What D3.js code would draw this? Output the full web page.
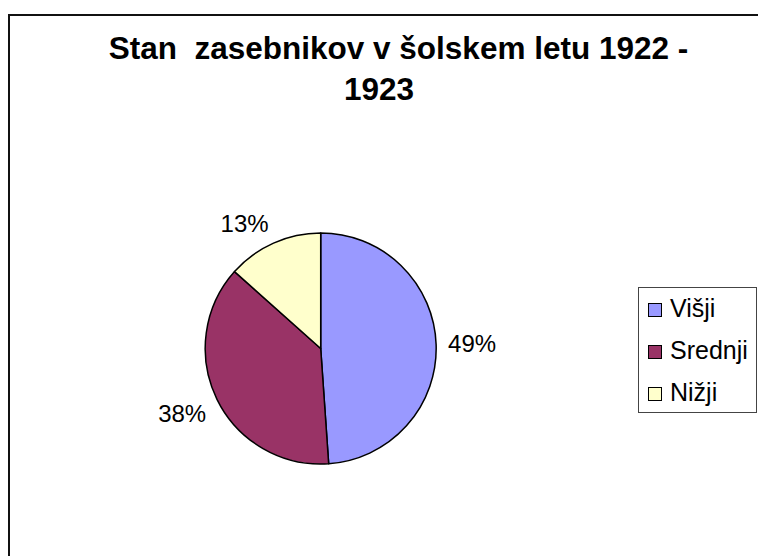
<!DOCTYPE html>
<html>
<head>
<meta charset="utf-8">
<script src="https://cdn.jsdelivr.net/npm/d3@7"></script>
<style>
  body { margin: 0; background: #fff; }
  svg { display: block; font-family: "Liberation Sans", Arial, sans-serif; }
</style>
</head>
<body>
<div id="chart"></div>
<script>
// Pie: Stan zasebnikov v šolskem letu 1922 - 1923
const CATEGORIES = ['Višji', 'Srednji', 'Nižji'];
const VALUES = [48.9, 37.7, 13.4];
const COLOURS = ['#9999ff', '#993366', '#ffffcc'];
const TITLE_LINES = ['Stan  zasebnikov v šolskem letu 1922 -', '1923'];

const width = 758, height = 556;
const cx = 320.7, cy = 348.5, R = 115.5;

const svg = d3.select('#chart').append('svg')
  .attr('width', width)
  .attr('height', height);

svg.append('rect').attr('width', width).attr('height', height).attr('fill', '#fff');

// chart area border (runs off the right/bottom edge)
svg.append('rect')
  .attr('x', 9).attr('y', 15)
  .attr('width', 800).attr('height', 600)
  .attr('fill', 'none')
  .attr('stroke', '#111')
  .attr('stroke-width', 2);

// title
svg.append('text')
  .attr('x', 398.5).attr('y', 59)
  .attr('text-anchor', 'middle')
  .style('font-size', '31.5px').style('font-weight', '700')
  .style('white-space', 'pre')
  .text(TITLE_LINES[0]);
svg.append('text')
  .attr('x', 379).attr('y', 100)
  .attr('text-anchor', 'middle')
  .style('font-size', '31.5px').style('font-weight', '700')
  .text(TITLE_LINES[1]);

const data = CATEGORIES.map((c, i) => ({ name: c, value: VALUES[i], colour: COLOURS[i] }));
const total = d3.sum(VALUES);

const pie = d3.pie().value(d => d.value).sort(null);
const arc = d3.arc().innerRadius(0).outerRadius(R);
const arcs = pie(data);

const g = svg.append('g').attr('transform', `translate(${cx},${cy})`);

g.selectAll('path.slice')
  .data(arcs)
  .join('path')
  .attr('class', 'slice')
  .attr('d', arc)
  .attr('fill', d => d.data.colour)
  .attr('stroke', '#000')
  .attr('stroke-width', 1.5)
  .attr('stroke-linejoin', 'round');

// labels outside the pie: nearest corner of label box sits on the mid-angle ray
const fs = 24;
const gap = 12;
const clamp = v => Math.max(-1, Math.min(1, v));
arcs.forEach(a => {
  const mid = (a.startAngle + a.endAngle) / 2;
  const dx = Math.sin(mid), dy = -Math.cos(mid);
  const label = Math.round(a.data.value / total * 100) + '%';
  const t = g.append('text')
    .style('font-size', fs + 'px')
    .attr('text-anchor', 'middle')
    .attr('fill', '#000')
    .text(label);
  const w = t.node().getComputedTextLength();
  const h = fs * 0.716;
  const px = (R + gap) * dx + clamp(dx * 3) * w / 2;
  const py = (R + gap) * dy + clamp(dy * 3) * h / 2;
  t.attr('x', px).attr('y', py + h / 2);
});

// legend
const legend = svg.append('g');
legend.append('rect')
  .attr('x', 638.5).attr('y', 287.5)
  .attr('width', 118).attr('height', 125)
  .attr('fill', '#fff')
  .attr('stroke', '#444')
  .attr('stroke-width', 1);

const rows = legend.selectAll('g.row')
  .data(data)
  .join('g')
  .attr('class', 'row')
  .attr('transform', (d, i) => `translate(648,${317 + i * 42})`);

rows.append('rect')
  .attr('x', 0.5).attr('y', -13.5)
  .attr('width', 13).attr('height', 13)
  .attr('fill', d => d.colour)
  .attr('stroke', '#000')
  .attr('stroke-width', 1);

rows.append('text')
  .attr('x', 22).attr('y', 0)
  .style('font-size', '25px')
  .text(d => d.name);
</script>
</body>
</html>
